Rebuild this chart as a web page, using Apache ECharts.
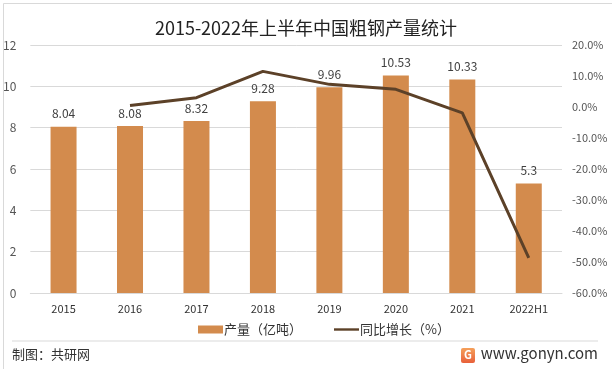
<!DOCTYPE html>
<html><head><meta charset="utf-8">
<script src="https://cdn.jsdelivr.net/npm/echarts@6/dist/echarts.min.js"></script>
<style>html,body{margin:0;padding:0;background:#fff}#c{width:612px;height:369px}</style>
</head><body><div id="c"></div>
<script>
const categories = ['2015','2016','2017','2018','2019','2020','2021','2022H1'];
const output = [8.04, 8.08, 8.32, 9.28, 9.96, 10.53, 10.33, 5.3];
const growth = [null, 0.5, 3.0, 11.5, 7.3, 5.7, -1.9, -48.7];
const leftTicks = {min: 0, max: 12, interval: 2};
const rightTicks = {min: -60, max: 20, interval: 10};

const chart = echarts.init(document.getElementById('c'), null, {renderer: 'canvas'});
const font = '"Microsoft YaHei","Noto Sans CJK SC",sans-serif';
chart.setOption({
  animation: false,
  backgroundColor: '#fff',
  textStyle: {fontFamily: font},
  title: {
    text: '2015-2022年上半年中国粗钢产量统计',
    left: 'center', top: 14,
    textStyle: {fontSize: 18, fontWeight: 'normal', color: '#222', fontFamily: font}
  },
  grid: {left: 29, right: 50, top: 45, bottom: 76},
  legend: {
    top: 318, left: 193, itemGap: 32, itemWidth: 25, itemHeight: 8,
    textStyle: {fontSize: 13, color: '#333', padding: [0,0,0,-4]},
    data: [{name: '产量（亿吨）', icon: 'rect'}, {name: '同比增长（%）', icon: 'path://M0,0M0,8M0,2.8H25V5.2H0Z'}]
  },
  xAxis: {
    type: 'category', data: categories,
    axisLine: {show: true, lineStyle: {color: '#d9d9d9'}},
    axisTick: {show: false},
    axisLabel: {color: '#333', fontSize: 11, margin: 10}
  },
  yAxis: [{
    type: 'value', min: leftTicks.min, max: leftTicks.max, interval: leftTicks.interval,
    axisLabel: {color: '#555', fontSize: 12, margin: 14},
    splitLine: {lineStyle: {color: '#d9d9d9'}},
    axisLine: {show: false}, axisTick: {show: false}
  }, {
    type: 'value', min: rightTicks.min, max: rightTicks.max, interval: rightTicks.interval,
    axisLabel: {color: '#555', fontSize: 11, margin: 10, formatter: v => v.toFixed(1) + '%'},
    splitLine: {show: false}, axisLine: {show: false}, axisTick: {show: false}
  }],
  series: [{
    name: '产量（亿吨）', type: 'bar', data: output, barWidth: 26,
    itemStyle: {color: '#D38B4D'},
    label: {show: true, position: 'top', distance: 7, color: '#404040', fontSize: 12}
  }, {
    name: '同比增长（%）', type: 'line', yAxisIndex: 1, data: growth,
    symbol: 'none', showSymbol: false,
    lineStyle: {color: '#5C4128', width: 3}, itemStyle: {color: '#5C4128'}
  }],
  graphic: [
    {type: 'rect', left: 1, top: 1, shape: {width: 609, height: 366}, style: {fill: 'none', stroke: '#d9d9d9', lineWidth: 1}, silent: true},
    {type: 'line', shape: {x1: 12, y1: 341, x2: 598, y2: 341}, style: {stroke: '#d9d9d9', lineWidth: 1}},
    {type: 'text', left: 12, top: 348, style: {text: '制图：共研网', fontSize: 13, fill: '#333', fontFamily: font}},
    {type: 'rect', left: 461, top: 348, shape: {width: 14, height: 15, r: 2}, style: {fill: new echarts.graphic.LinearGradient(0,0,0,1,[{offset:0,color:'#F5A05A'},{offset:1,color:'#E8603A'}])}},
    {type: 'text', left: 464, top: 349, style: {text: 'G', fontSize: 11, fontWeight: 'bold', fill: '#fff', fontFamily: font}},
    {type: 'text', right: 14, top: 346, style: {text: 'www.gonyn.com', fontSize: 15, fill: '#333', fontFamily: font}}
  ]
});
</script></body></html>
